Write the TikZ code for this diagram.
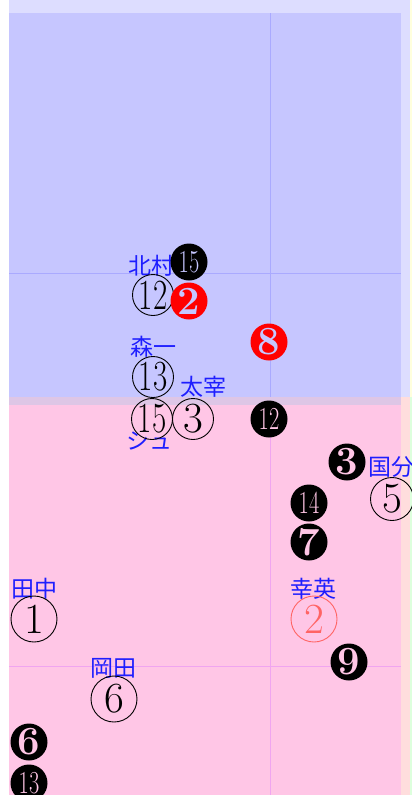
\documentclass[tikz,border=0pt]{standalone}
\usepackage{fontspec}
\usepackage{graphicx}
\newfontfamily\jpfont{Noto Sans CJK JP}
\definecolor{outerlav}{RGB}{221,221,255}
\definecolor{outerpink}{RGB}{255,221,221}
\definecolor{stripyel}{RGB}{255,255,221}
\definecolor{stripgrn}{RGB}{221,255,221}
\definecolor{bgblue}{RGB}{198,198,255}
\definecolor{bgpink}{RGB}{255,198,230}
\definecolor{bgmauve}{RGB}{222,198,230}
\definecolor{gridblue}{RGB}{170,170,255}
\definecolor{gridpink}{RGB}{240,165,240}
\definecolor{namecol}{RGB}{30,30,255}
\definecolor{salmon}{RGB}{255,100,100}
\newcommand\twodig[1]{\scalebox{0.72}[1]{#1}}
\newcommand\twodigb[1]{\scalebox{0.7}[1]{#1}}
\tikzset{
  namelbl/.style={font=\jpfont\fontsize{23}{23}\selectfont, text=namecol, inner sep=0},
  ocirc/.style={circle, draw=black, line width=0.9pt, inner sep=0, minimum size=41pt,
    label={[font=\fontsize{43}{43}\selectfont, inner sep=0]center:#1}},
  ocircbig/.style={ocirc=#1, minimum size=46pt},
  bcirc/.style 2 args={circle, fill=black, inner sep=0, minimum size=37pt,
    label={[font=\bfseries\fontsize{40}{40}\selectfont, text=#2, inner sep=0]center:#1}},
  bcirctwo/.style 2 args={circle, fill=black, inner sep=0, minimum size=37pt,
    label={[font=\fontsize{32}{32}\selectfont, text=#2, inner sep=0]center:\twodigb{#1}}},
  gridline/.style={line width=0.8pt}
}
\begin{document}
\begin{tikzpicture}[x=1pt,y=-1pt]
\useasboundingbox (0,0) rectangle (412,795);
% backgrounds
\fill[white] (0,0) rectangle (412,795);
\fill[outerlav] (9,0) rectangle (410,397);
\fill[outerpink] (9,397) rectangle (410,795);
\fill[stripyel] (410,0) rectangle (412,397);
\fill[stripgrn] (410,397) rectangle (412,795);
\fill[bgblue] (9,13) rectangle (401,397);
\fill[bgmauve] (9,397) rectangle (401,405);
\fill[bgpink] (9,405) rectangle (401,795);
% grid lines
\draw[gridline, gridblue] (270,13) -- (270,397);
\draw[gridline, gridblue] (9,273) -- (401,273);
\draw[gridline, gridpink] (270,405) -- (270,795);
\draw[gridline, gridpink] (9,666) -- (401,666);
% names
\node[namelbl] (nKitamura) at (151,266) {北村};
\node[namelbl] (nMorikazu) at (153,347) {森一};
\node[namelbl] (nDazai) at (203,387) {太宰};
\node[namelbl] (nShu) at (149,441) {シュ};
\node[namelbl] (nKokubun) at (391,467) {国分};
\node[namelbl] (nTanaka) at (34,589) {田中};
\node[namelbl] (nYukihide) at (313,589) {幸英};
\node[namelbl] (nOkada) at (113,668) {岡田};
% outlined circled numbers
\node[ocirc=\twodig{12}] (o12) at (153,295) {};
\node[ocirc=\twodig{13}] (o13) at (153,377) {};
\node[ocirc=\twodig{15}] (o15) at (152,419) {};
\node[ocirc=3] (o3) at (193,419) {};
\node[ocirc=5, minimum size=43pt] (o5) at (392,499) {};
\node[ocircbig=1] (o1) at (34,619) {};
\node[ocircbig={\textcolor{salmon}{2}}, draw=salmon] (o2) at (314,619) {};
\node[ocircbig=6] (o6) at (114,699) {};
% filled circled numbers
\node[bcirctwo={15}{bgblue}] (b15) at (189,262) {};
\node[bcirc={2}{bgblue}, fill=red] (b2) at (189,301) {};
\node[bcirc={8}{bgblue}, fill=red] (b8) at (269,342) {};
\node[bcirctwo={12}{bgpink}] (b12) at (269,419) {};
\node[bcirc={3}{bgpink}] (b3) at (347,462) {};
\node[bcirctwo={14}{bgpink}] (b14) at (309,503) {};
\node[bcirc={7}{bgpink}] (b7) at (309,542) {};
\node[bcirc={9}{bgpink}] (b9) at (349,662) {};
\node[bcirc={6}{bgpink}] (b6) at (29,742) {};
\node[bcirctwo={13}{bgpink}] (b13) at (29,783) {};
\end{tikzpicture}
\end{document}
